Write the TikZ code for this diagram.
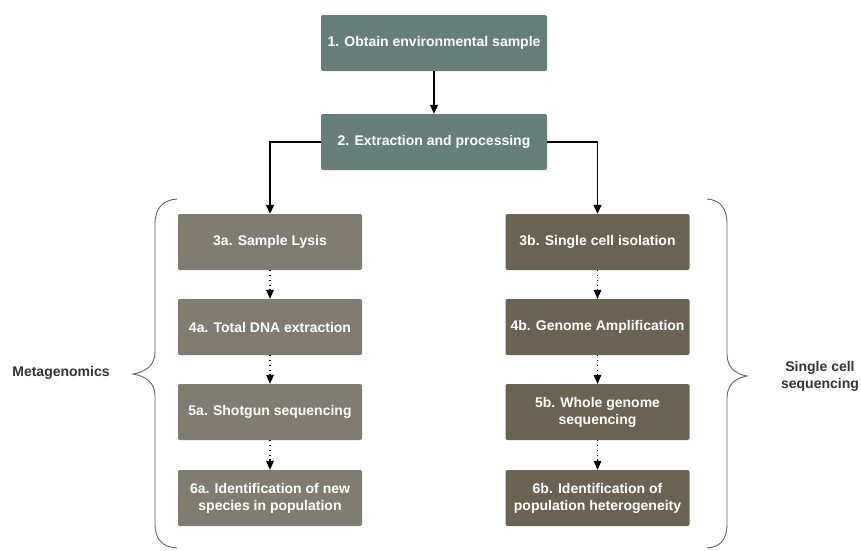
\documentclass[tikz,border=0pt]{standalone}
\usepackage{fontspec}
\setmainfont{Liberation Sans}
\usetikzlibrary{arrows.meta,positioning}
\definecolor{topc}{RGB}{101,127,122}
\definecolor{leftc}{RGB}{128,124,112}
\definecolor{rightc}{RGB}{107,99,81}
\definecolor{bracec}{RGB}{100,100,100}
\definecolor{labc}{RGB}{51,51,51}
\tikzset{
  box/.style={rectangle, rounded corners=2pt, text=white, font=\bfseries\fontsize{14}{17}\selectfont, align=center, inner sep=0pt},
  topbox/.style={box, fill=topc, minimum width=226pt, minimum height=56pt},
  lbox/.style={box, fill=leftc, minimum width=184pt, minimum height=56pt},
  rbox/.style={box, fill=rightc, minimum width=184pt, minimum height=56pt},
  solidarrow/.style={draw=black, line width=1.3pt, -{Triangle[width=8pt,length=9pt]}},
  dotarrow/.style={draw=black, line width=1.4pt, dash pattern=on 1.2pt off 3.6pt, -{Triangle[width=8pt,length=9pt,line width=0pt]}},
  bracestyle/.style={draw=bracec, line width=0.9pt},
  sidelabel/.style={text=labc, font=\bfseries\fontsize{14}{17}\selectfont, align=center}
}
\begin{document}
\begin{tikzpicture}[x=1pt,y=-1pt]
\useasboundingbox (0,0) rectangle (861,550);
\node[topbox] (s1) at (434,43) {1. Obtain environmental sample};
\node[topbox] (s2) at (434,142) {2. Extraction and processing};
\node[lbox] (a3) at (270,242) {3a. Sample Lysis};
\node[lbox] (a4) at (270,327) {4a. Total DNA extraction};
\node[lbox] (a5) at (270,412) {5a. Shotgun sequencing};
\node[lbox] (a6) at (270,498) {6a. Identification of new\\species in population};
\node[rbox] (b3) at (597.5,242) {3b. Single cell isolation};
\node[rbox] (b4) at (597.5,327) {4b. Genome Amplification};
\node[rbox] (b5) at (597.5,412) {5b. Whole genome\\sequencing};
\node[rbox] (b6) at (597.5,498) {6b. Identification of\\population heterogeneity};
\draw[solidarrow] (s1) -- (s2);
\draw[solidarrow] (s2.west) -| (a3.north);
\draw[solidarrow] (s2.east) -| (b3.north);
\draw[dotarrow] (a3) -- (a4);
\draw[dotarrow] (a4) -- (a5);
\draw[dotarrow] (a5) -- (a6);
\draw[dotarrow] (b3) -- (b4);
\draw[dotarrow] (b4) -- (b5);
\draw[dotarrow] (b5) -- (b6);
% braces
\coordinate (ltip) at (133,374);
\coordinate (rtip) at (747,376);
\draw[bracestyle] (177,199) .. controls (163,200) and (155,208) .. (155,224)
  -- (155,352) .. controls (155,366) and (145,372) .. (ltip)
  .. controls (145,376) and (155,382) .. (155,396)
  -- (155,524) .. controls (155,540) and (163,547) .. (177,548);
\draw[bracestyle] (707,199) .. controls (720,200) and (727,208) .. (727,224)
  -- (727,354) .. controls (727,368) and (736,374) .. (rtip)
  .. controls (736,378) and (727,384) .. (727,398)
  -- (727,524) .. controls (727,540) and (720,547) .. (707,548);
\node[sidelabel] (meta) at (61,373) {Metagenomics};
\node[sidelabel] (scs) at (820,376) {Single cell\\sequencing};
\end{tikzpicture}
\end{document}
